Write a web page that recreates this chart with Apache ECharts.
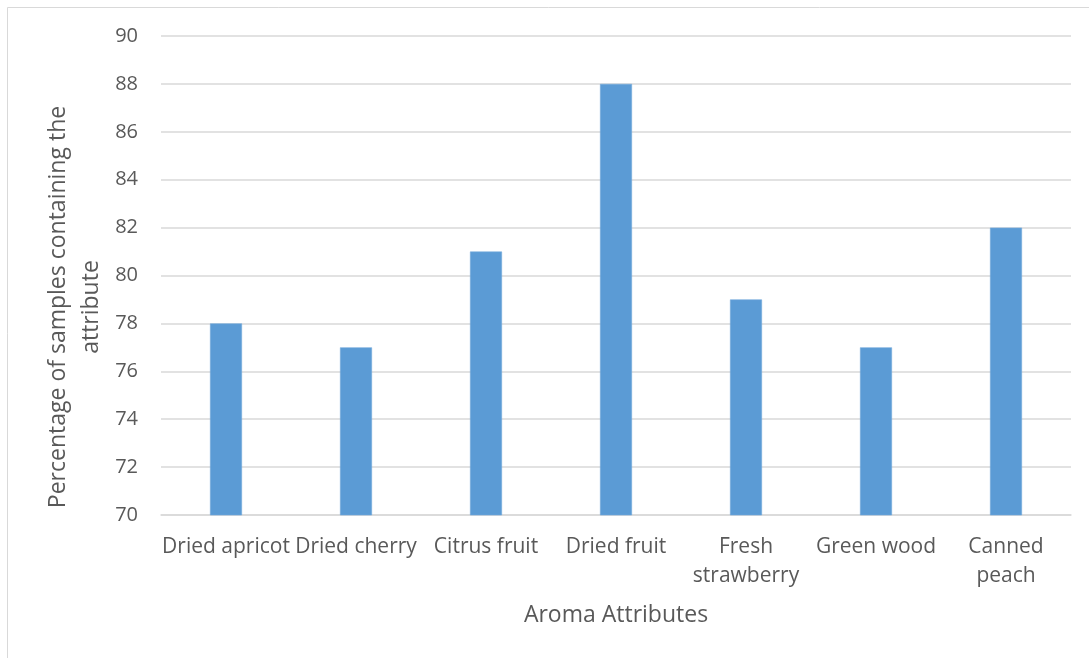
<!DOCTYPE html>
<html>
<head>
<meta charset="utf-8">
<script src="https://cdn.jsdelivr.net/npm/echarts@6/dist/echarts.min.js"></script>
<style>
  html, body { margin: 0; padding: 0; background: #ffffff; }
  #chart { width: 1089px; height: 658px; }
</style>
</head>
<body>
<div id="chart"></div>
<script>
// Aroma attributes and the share of samples in which each was detected
const categories = ['Dried apricot', 'Dried cherry', 'Citrus fruit', 'Dried fruit', 'Fresh\nstrawberry', 'Green wood', 'Canned\npeach'];
const percentages = [78, 77, 81, 88, 79, 77, 82];
const yMin = 70;
const yMax = 90;
const yStep = 2;
const yTitle = 'Percentage of samples containing the\nattribute';
const xTitle = 'Aroma Attributes';

const textColor = '#595959';
const gridColor = '#d9d9d9';
const fontFamily = '"Open Sans", "DejaVu Sans", sans-serif';

const chart = echarts.init(document.getElementById('chart'), null, { renderer: 'canvas' });

chart.setOption({
  animation: false,
  backgroundColor: '#ffffff',
  textStyle: { fontFamily: fontFamily },
  graphic: [
    {
      // chart-area frame
      type: 'rect',
      shape: { x: 7.5, y: 7.5, width: 1300, height: 1000 },
      style: { fill: 'none', stroke: gridColor, lineWidth: 1 },
      silent: true
    },
    {
      // vertical axis title, two lines reading bottom-to-top
      type: 'text',
      x: 75,
      y: 307,
      rotation: Math.PI / 2,
      style: {
        text: yTitle,
        fill: textColor,
        font: '23px ' + fontFamily,
        lineHeight: 33,
        align: 'center',
        verticalAlign: 'middle'
      },
      silent: true
    }
  ],
  grid: { left: 161, right: 18, top: 36, bottom: 143 },
  xAxis: {
    type: 'category',
    data: categories,
    name: xTitle,
    nameLocation: 'middle',
    nameGap: 89,
    nameTextStyle: { color: textColor, fontSize: 23, fontFamily: fontFamily },
    axisLine: { show: true, lineStyle: { color: gridColor, width: 1.5 } },
    axisTick: { show: false },
    axisLabel: {
      color: textColor,
      fontSize: 21,
      fontFamily: fontFamily,
      margin: 18,
      lineHeight: 29,
      interval: 0
    }
  },
  yAxis: {
    type: 'value',
    min: yMin,
    max: yMax,
    interval: yStep,
    axisLine: { show: false },
    axisTick: { show: false },
    axisLabel: { color: textColor, fontSize: 20, fontFamily: fontFamily, margin: 23 },
    splitLine: { show: true, lineStyle: { color: gridColor, width: 1.5 } }
  },
  series: [{
    type: 'bar',
    data: percentages,
    barWidth: 32,
    itemStyle: { color: '#5b9bd5', borderColor: '#74aadc', borderWidth: 0.6 }
  }]
});
</script>
</body>
</html>
